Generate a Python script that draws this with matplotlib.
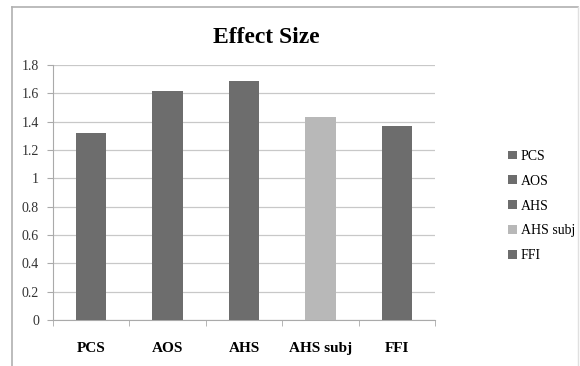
import matplotlib.pyplot as plt
from matplotlib.lines import Line2D
from matplotlib.patches import Patch

categories = ['PCS', 'AOS', 'AHS', 'AHS subj', 'FFI']
effect_sizes = [1.32, 1.62, 1.69, 1.43, 1.37]
bar_colors = ['#6d6d6d', '#6d6d6d', '#6d6d6d', '#b8b8b8', '#6d6d6d']
y_ticks = [0, 0.2, 0.4, 0.6, 0.8, 1, 1.2, 1.4, 1.6, 1.8]

plt.rcParams['font.family'] = ['Liberation Serif', 'DejaVu Serif']

fig = plt.figure(figsize=(5.8, 3.66), dpi=100)
ax = fig.add_axes([0.0914, 0.1257, 0.6586, 0.6967])

x = range(len(categories))
ax.bar(x, effect_sizes, width=0.4, color=bar_colors, zorder=3)

ax.set_xlim(-0.5, len(categories) - 0.5)
ax.set_ylim(0, 1.8)
ax.set_yticks(y_ticks)
ax.set_yticklabels([('%g' % v) for v in y_ticks], fontsize=10, color='#333333')
ax.set_xticks(x)
ax.set_xticklabels(categories, fontsize=11, fontweight='bold')
ax.set_xticks([i - 0.5 for i in range(len(categories) + 1)], minor=True)
ax.tick_params(axis='x', which='major', length=0, pad=16)
ax.tick_params(axis='x', which='minor', length=4, color='#aaaaaa', direction='out')
ax.tick_params(axis='y', length=4, color='#aaaaaa', pad=6)

ax.grid(axis='y', color='#c8c8c8', linewidth=0.9, zorder=0)
for s in ['top', 'right']:
    ax.spines[s].set_visible(False)
for s in ['left', 'bottom']:
    ax.spines[s].set_color('#aaaaaa')

fig.text(0.46, 0.897, 'Effect Size', ha='center', va='center',
         fontsize=17, fontweight='bold')

handles = [Patch(facecolor=c, edgecolor='none') for c in bar_colors]
fig.legend(handles, categories, loc='center left', bbox_to_anchor=(0.855, 0.437),
           frameon=False, fontsize=10, handlelength=0.6, handleheight=0.6,
           handletextpad=0.3, labelspacing=0.85)

# outer chart border
fig.add_artist(Line2D([0.021, 0.021], [0.0, 0.981], color='#b0b0b0', lw=1.2))
fig.add_artist(Line2D([0.021, 0.997], [0.981, 0.981], color='#b0b0b0', lw=1.2))
fig.add_artist(Line2D([0.997, 0.997], [0.0, 0.981], color='#e0e0e0', lw=1.0))

fig.savefig('out.png', dpi=100, facecolor='white')
